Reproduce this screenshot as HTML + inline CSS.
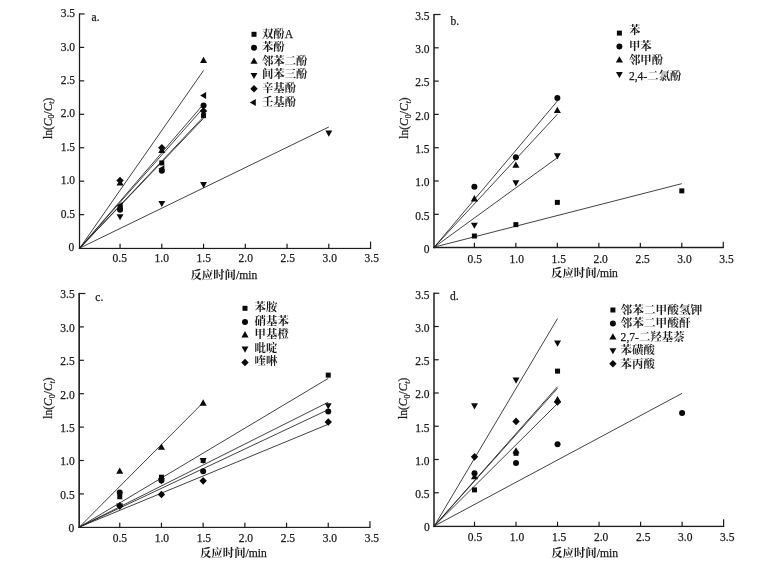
<!DOCTYPE html>
<html lang="zh"><head><meta charset="utf-8"><title>ln(C0/Ct) - 反应时间</title>
<style>
html,body{margin:0;padding:0;background:#fff;}
body{width:759px;height:565px;overflow:hidden;}
svg{display:block;will-change:transform;}
text{font-family:"Liberation Serif","Noto Serif CJK SC",serif;fill:#1c1c1c;}
.tk{font-size:11.5px;stroke:#1c1c1c;stroke-width:0.25px;}
.lg{font-size:11.4px;font-weight:700;}
.la{font-weight:400;font-size:11.6px;stroke:#1c1c1c;stroke-width:0.25px;}
.axr rect{fill:#1c1c1c;}
.ln{stroke:#202020;stroke-width:0.85;fill:none;}
.mk{fill:#0a0a0a;}
</style></head><body>
<svg width="759" height="565" viewBox="0 0 759 565">
<rect width="759" height="565" fill="#fff"/>
<g id="panel-a">
<line class="ln" x1="79.80" y1="248.05" x2="203.55" y2="70.48"/>
<line class="ln" x1="79.80" y1="248.05" x2="203.55" y2="104.10"/>
<line class="ln" x1="79.80" y1="248.05" x2="203.55" y2="107.61"/>
<line class="ln" x1="79.80" y1="248.05" x2="203.55" y2="116.84"/>
<line class="ln" x1="79.80" y1="248.05" x2="203.55" y2="118.35"/>
<line class="ln" x1="79.80" y1="248.05" x2="328.80" y2="127.00"/>
<g class="axr">
<rect x="78.88" y="13.35" width="1.25" height="235.70"/>
<rect x="78.88" y="247.85" width="292.28" height="1.20"/>
<rect x="119.45" y="243.75" width="1.2" height="4.70"/>
<rect x="79.50" y="214.05" width="4.70" height="1.2"/>
<text class="tk" text-anchor="middle" x="119.70" y="262.40">0.5</text>
<text class="tk" text-anchor="end" x="75.00" y="217.80">0.5</text>
<rect x="161.20" y="243.75" width="1.2" height="4.70"/>
<rect x="79.50" y="180.60" width="4.70" height="1.2"/>
<text class="tk" text-anchor="middle" x="161.70" y="262.40">1.0</text>
<text class="tk" text-anchor="end" x="75.00" y="184.35">1.0</text>
<rect x="202.95" y="243.75" width="1.2" height="4.70"/>
<rect x="79.50" y="147.15" width="4.70" height="1.2"/>
<text class="tk" text-anchor="middle" x="203.70" y="262.40">1.5</text>
<text class="tk" text-anchor="end" x="75.00" y="150.90">1.5</text>
<rect x="244.70" y="243.75" width="1.2" height="4.70"/>
<rect x="79.50" y="113.70" width="4.70" height="1.2"/>
<text class="tk" text-anchor="middle" x="245.70" y="262.40">2.0</text>
<text class="tk" text-anchor="end" x="75.00" y="117.45">2.0</text>
<rect x="286.45" y="243.75" width="1.2" height="4.70"/>
<rect x="79.50" y="80.25" width="4.70" height="1.2"/>
<text class="tk" text-anchor="middle" x="287.70" y="262.40">2.5</text>
<text class="tk" text-anchor="end" x="75.00" y="84.00">2.5</text>
<rect x="328.20" y="243.75" width="1.2" height="4.70"/>
<rect x="79.50" y="46.80" width="4.70" height="1.2"/>
<text class="tk" text-anchor="middle" x="329.70" y="262.40">3.0</text>
<text class="tk" text-anchor="end" x="75.00" y="50.55">3.0</text>
<rect x="369.95" y="241.55" width="1.2" height="6.90"/>
<rect x="79.50" y="13.35" width="5.10" height="1.2"/>
<text class="tk" text-anchor="middle" x="371.70" y="262.40">3.5</text>
<text class="tk" text-anchor="end" x="75.00" y="17.10">3.5</text>
</g>
<text class="tk" text-anchor="end" x="74.20" y="250.85">0</text>
<g class="mk">
<rect x="117.55" y="205.13" width="5.0" height="5.0"/>
<rect x="159.30" y="160.44" width="5.0" height="5.0"/>
<rect x="201.05" y="113.14" width="5.0" height="5.0"/>
<circle cx="120.05" cy="209.77" r="3.0"/>
<circle cx="161.80" cy="170.83" r="3.0"/>
<circle cx="203.55" cy="105.60" r="3.0"/>
<polygon points="120.05,179.17 123.60,185.47 116.50,185.47"/>
<polygon points="161.80,146.73 165.35,153.03 158.25,153.03"/>
<polygon points="203.55,56.68 207.10,62.98 200.00,62.98"/>
<polygon points="120.05,220.26 123.50,214.16 116.60,214.16"/>
<polygon points="161.80,207.08 165.25,200.98 158.35,200.98"/>
<polygon points="203.55,188.14 207.00,182.04 200.10,182.04"/>
<polygon points="328.80,136.63 332.25,130.53 325.35,130.53"/>
<polygon points="120.05,176.73 123.75,180.53 120.05,184.33 116.35,180.53"/>
<polygon points="161.80,143.95 165.50,147.75 161.80,151.55 158.10,147.75"/>
<polygon points="203.55,107.15 207.25,110.95 203.55,114.75 199.85,110.95"/>
<polygon points="116.65,205.48 122.65,201.98 122.65,208.98"/>
<polygon points="158.40,168.82 164.40,165.32 164.40,172.32"/>
<polygon points="200.15,95.57 206.15,92.07 206.15,99.07"/>
</g>
<text class="tk" x="91.60" y="21.20">a.</text>
<g class="mk">
<rect x="251.50" y="31.80" width="5.0" height="5.0"/>
<circle cx="254.00" cy="47.70" r="3.0"/>
<polygon points="254.00,57.50 257.55,63.80 250.45,63.80"/>
<polygon points="254.00,79.10 257.45,73.00 250.55,73.00"/>
<polygon points="254.00,85.00 257.70,88.80 254.00,92.60 250.30,88.80"/>
<polygon points="249.80,102.40 255.80,98.90 255.80,105.90"/>
</g>
<text class="lg" x="261.90" y="37.60">双酚<tspan class="la">A</tspan></text>
<text class="lg" x="261.90" y="51.20">苯酚</text>
<text class="lg" x="261.90" y="64.80">邻苯二酚</text>
<text class="lg" x="261.90" y="78.40">间苯三酚</text>
<text class="lg" x="261.90" y="92.00">辛基酚</text>
<text class="lg" x="261.90" y="105.60">壬基酚</text>
<text class="lg" text-anchor="middle" x="223.80" y="278.60">反应时间<tspan class="la">/min</tspan></text>
<text class="tk" text-anchor="middle" transform="translate(52.00,118.30) rotate(-90)">ln(<tspan font-style="italic">C</tspan><tspan font-size="8px" dy="2.2">0</tspan><tspan dy="-2.2">/</tspan><tspan font-style="italic">C</tspan><tspan font-size="8px" font-style="italic" dy="2.2">t</tspan><tspan dy="-2.2">)</tspan></text>
</g>
<g id="panel-b">
<line class="ln" x1="434.30" y1="247.10" x2="557.36" y2="101.05"/>
<line class="ln" x1="434.30" y1="247.10" x2="557.36" y2="114.33"/>
<line class="ln" x1="434.30" y1="247.10" x2="557.36" y2="157.69"/>
<line class="ln" x1="434.30" y1="247.10" x2="681.81" y2="183.66"/>
<g class="axr">
<rect x="433.25" y="13.90" width="1.50" height="234.32"/>
<rect x="433.25" y="246.78" width="290.64" height="1.45"/>
<rect x="473.78" y="242.80" width="1.2" height="4.70"/>
<rect x="434.00" y="213.70" width="4.70" height="1.2"/>
<text class="tk" text-anchor="middle" x="474.80" y="262.50">0.5</text>
<text class="tk" text-anchor="end" x="429.50" y="219.60">0.5</text>
<rect x="515.27" y="242.80" width="1.2" height="4.70"/>
<rect x="434.00" y="180.40" width="4.70" height="1.2"/>
<text class="tk" text-anchor="middle" x="516.75" y="262.50">1.0</text>
<text class="tk" text-anchor="end" x="429.50" y="186.30">1.0</text>
<rect x="556.75" y="242.80" width="1.2" height="4.70"/>
<rect x="434.00" y="147.10" width="4.70" height="1.2"/>
<text class="tk" text-anchor="middle" x="558.70" y="262.50">1.5</text>
<text class="tk" text-anchor="end" x="429.50" y="153.00">1.5</text>
<rect x="598.24" y="242.80" width="1.2" height="4.70"/>
<rect x="434.00" y="113.80" width="4.70" height="1.2"/>
<text class="tk" text-anchor="middle" x="600.65" y="262.50">2.0</text>
<text class="tk" text-anchor="end" x="429.50" y="119.70">2.0</text>
<rect x="639.73" y="242.80" width="1.2" height="4.70"/>
<rect x="434.00" y="80.50" width="4.70" height="1.2"/>
<text class="tk" text-anchor="middle" x="642.60" y="262.50">2.5</text>
<text class="tk" text-anchor="end" x="429.50" y="86.40">2.5</text>
<rect x="681.21" y="242.80" width="1.2" height="4.70"/>
<rect x="434.00" y="47.20" width="4.70" height="1.2"/>
<text class="tk" text-anchor="middle" x="684.55" y="262.50">3.0</text>
<text class="tk" text-anchor="end" x="429.50" y="53.10">3.0</text>
<rect x="722.69" y="241.80" width="1.2" height="5.70"/>
<rect x="434.00" y="13.90" width="6.50" height="1.2"/>
<text class="tk" text-anchor="middle" x="726.50" y="262.50">3.5</text>
<text class="tk" text-anchor="end" x="429.50" y="19.80">3.5</text>
</g>
<text class="tk" text-anchor="end" x="429.50" y="252.50">0</text>
<g class="mk">
<rect x="471.88" y="233.51" width="5.0" height="5.0"/>
<rect x="513.37" y="222.12" width="5.0" height="5.0"/>
<rect x="554.86" y="199.88" width="5.0" height="5.0"/>
<rect x="679.31" y="188.36" width="5.0" height="5.0"/>
<circle cx="474.38" cy="186.73" r="3.0"/>
<circle cx="515.87" cy="157.29" r="3.0"/>
<circle cx="557.36" cy="98.02" r="3.0"/>
<polygon points="474.38,195.08 477.94,201.38 470.83,201.38"/>
<polygon points="515.87,161.38 519.42,167.68 512.32,167.68"/>
<polygon points="557.36,106.70 560.90,113.00 553.81,113.00"/>
<polygon points="474.38,228.82 477.83,222.72 470.94,222.72"/>
<polygon points="515.87,186.40 519.32,180.30 512.42,180.30"/>
<polygon points="557.36,159.43 560.81,153.33 553.90,153.33"/>
</g>
<text class="tk" x="450.60" y="24.50">b.</text>
<g class="mk">
<rect x="616.90" y="30.60" width="5.0" height="5.0"/>
<circle cx="619.40" cy="46.40" r="3.0"/>
<polygon points="619.40,56.30 622.95,62.60 615.85,62.60"/>
<polygon points="619.40,78.10 622.85,72.00 615.95,72.00"/>
</g>
<text class="lg" x="628.90" y="33.90">苯</text>
<text class="lg" x="628.90" y="49.50">甲苯</text>
<text class="lg" x="628.90" y="64.30">邻甲酚</text>
<text class="lg" x="628.90" y="79.90"><tspan class="la">2,4-</tspan>二氯酚</text>
<text class="lg" text-anchor="middle" x="584.50" y="277.30">反应时间<tspan class="la">/min</tspan></text>
<text class="tk" text-anchor="middle" transform="translate(408.40,118.00) rotate(-90)">ln(<tspan font-style="italic">C</tspan><tspan font-size="8px" dy="2.2">0</tspan><tspan dy="-2.2">/</tspan><tspan font-style="italic">C</tspan><tspan font-size="8px" font-style="italic" dy="2.2">t</tspan><tspan dy="-2.2">)</tspan></text>
</g>
<g id="panel-c">
<line class="ln" x1="79.45" y1="527.00" x2="203.15" y2="402.55"/>
<line class="ln" x1="79.45" y1="527.00" x2="328.25" y2="378.40"/>
<line class="ln" x1="79.45" y1="527.00" x2="328.25" y2="402.25"/>
<line class="ln" x1="79.45" y1="527.00" x2="328.25" y2="409.67"/>
<line class="ln" x1="79.45" y1="527.00" x2="328.25" y2="424.29"/>
<g class="axr">
<rect x="78.35" y="292.90" width="1.60" height="235.08"/>
<rect x="78.35" y="526.82" width="292.20" height="1.15"/>
<rect x="119.15" y="522.70" width="1.2" height="4.70"/>
<rect x="79.15" y="493.30" width="4.70" height="1.2"/>
<text class="tk" text-anchor="middle" x="119.90" y="541.60">0.5</text>
<text class="tk" text-anchor="end" x="74.65" y="498.70">0.5</text>
<rect x="160.85" y="522.70" width="1.2" height="4.70"/>
<rect x="79.15" y="459.90" width="4.70" height="1.2"/>
<text class="tk" text-anchor="middle" x="161.90" y="541.60">1.0</text>
<text class="tk" text-anchor="end" x="74.65" y="465.30">1.0</text>
<rect x="202.55" y="522.70" width="1.2" height="4.70"/>
<rect x="79.15" y="426.50" width="4.70" height="1.2"/>
<text class="tk" text-anchor="middle" x="203.90" y="541.60">1.5</text>
<text class="tk" text-anchor="end" x="74.65" y="431.90">1.5</text>
<rect x="244.25" y="522.70" width="1.2" height="4.70"/>
<rect x="79.15" y="393.10" width="4.70" height="1.2"/>
<text class="tk" text-anchor="middle" x="245.90" y="541.60">2.0</text>
<text class="tk" text-anchor="end" x="74.65" y="398.50">2.0</text>
<rect x="285.95" y="522.70" width="1.2" height="4.70"/>
<rect x="79.15" y="359.70" width="4.70" height="1.2"/>
<text class="tk" text-anchor="middle" x="287.90" y="541.60">2.5</text>
<text class="tk" text-anchor="end" x="74.65" y="365.10">2.5</text>
<rect x="327.65" y="522.70" width="1.2" height="4.70"/>
<rect x="79.15" y="326.30" width="4.70" height="1.2"/>
<text class="tk" text-anchor="middle" x="329.90" y="541.60">3.0</text>
<text class="tk" text-anchor="end" x="74.65" y="331.70">3.0</text>
<rect x="369.35" y="521.10" width="1.2" height="6.30"/>
<rect x="79.15" y="292.90" width="6.20" height="1.2"/>
<text class="tk" text-anchor="middle" x="371.90" y="541.60">3.5</text>
<text class="tk" text-anchor="end" x="74.65" y="298.30">3.5</text>
</g>
<text class="tk" text-anchor="end" x="74.35" y="531.70">0</text>
<g class="mk">
<rect x="117.25" y="494.27" width="5.0" height="5.0"/>
<rect x="158.95" y="474.70" width="5.0" height="5.0"/>
<rect x="200.65" y="458.00" width="5.0" height="5.0"/>
<rect x="325.75" y="372.63" width="5.0" height="5.0"/>
<circle cx="119.75" cy="492.56" r="3.0"/>
<circle cx="161.45" cy="480.54" r="3.0"/>
<circle cx="203.15" cy="471.19" r="3.0"/>
<circle cx="328.25" cy="411.40" r="3.0"/>
<polygon points="119.75,467.49 123.30,473.79 116.20,473.79"/>
<polygon points="161.45,443.44 165.00,449.74 157.90,449.74"/>
<polygon points="203.15,399.35 206.70,405.65 199.60,405.65"/>
<polygon points="119.75,509.52 123.20,503.42 116.30,503.42"/>
<polygon points="161.45,484.14 164.90,478.04 158.00,478.04"/>
<polygon points="203.15,464.10 206.60,458.00 199.70,458.00"/>
<polygon points="328.25,409.32 331.70,403.22 324.80,403.22"/>
<polygon points="119.75,502.12 123.45,505.92 119.75,509.72 116.05,505.92"/>
<polygon points="161.45,490.77 165.15,494.57 161.45,498.37 157.75,494.57"/>
<polygon points="203.15,477.07 206.85,480.87 203.15,484.67 199.45,480.87"/>
<polygon points="328.25,418.22 331.95,422.02 328.25,425.82 324.55,422.02"/>
</g>
<text class="tk" x="95.30" y="300.60">c.</text>
<g class="mk">
<rect x="242.50" y="305.80" width="5.0" height="5.0"/>
<circle cx="245.00" cy="321.90" r="3.0"/>
<polygon points="245.00,331.10 248.55,337.40 241.45,337.40"/>
<polygon points="245.00,352.70 248.45,346.60 241.55,346.60"/>
<polygon points="245.00,358.70 248.70,362.50 245.00,366.30 241.30,362.50"/>
</g>
<text class="lg" x="254.60" y="311.30">苯胺</text>
<text class="lg" x="254.60" y="324.80">硝基苯</text>
<text class="lg" x="254.60" y="338.40">甲基橙</text>
<text class="lg" x="254.60" y="351.90">吡啶</text>
<text class="lg" x="254.60" y="365.00">喹啉</text>
<text class="lg" text-anchor="middle" x="233.40" y="557.30">反应时间<tspan class="la">/min</tspan></text>
<text class="tk" text-anchor="middle" transform="translate(52.40,398.00) rotate(-90)">ln(<tspan font-style="italic">C</tspan><tspan font-size="8px" dy="2.2">0</tspan><tspan dy="-2.2">/</tspan><tspan font-style="italic">C</tspan><tspan font-size="8px" font-style="italic" dy="2.2">t</tspan><tspan dy="-2.2">)</tspan></text>
</g>
<g id="panel-d">
<line class="ln" x1="434.30" y1="526.00" x2="557.54" y2="318.52"/>
<line class="ln" x1="434.30" y1="526.00" x2="557.54" y2="386.65"/>
<line class="ln" x1="434.30" y1="526.00" x2="557.54" y2="388.35"/>
<line class="ln" x1="434.30" y1="526.00" x2="557.54" y2="403.51"/>
<line class="ln" x1="434.30" y1="526.00" x2="682.09" y2="393.33"/>
<g class="axr">
<rect x="433.25" y="292.65" width="1.50" height="234.40"/>
<rect x="433.25" y="525.75" width="290.96" height="1.30"/>
<rect x="473.91" y="521.70" width="1.2" height="4.70"/>
<rect x="434.00" y="492.15" width="4.70" height="1.2"/>
<text class="tk" text-anchor="middle" x="475.00" y="541.40">0.5</text>
<text class="tk" text-anchor="end" x="429.50" y="498.15">0.5</text>
<rect x="515.43" y="521.70" width="1.2" height="4.70"/>
<rect x="434.00" y="458.90" width="4.70" height="1.2"/>
<text class="tk" text-anchor="middle" x="517.05" y="541.40">1.0</text>
<text class="tk" text-anchor="end" x="429.50" y="464.90">1.0</text>
<rect x="556.94" y="521.70" width="1.2" height="4.70"/>
<rect x="434.00" y="425.65" width="4.70" height="1.2"/>
<text class="tk" text-anchor="middle" x="559.10" y="541.40">1.5</text>
<text class="tk" text-anchor="end" x="429.50" y="431.65">1.5</text>
<rect x="598.46" y="521.70" width="1.2" height="4.70"/>
<rect x="434.00" y="392.40" width="4.70" height="1.2"/>
<text class="tk" text-anchor="middle" x="601.15" y="541.40">2.0</text>
<text class="tk" text-anchor="end" x="429.50" y="398.40">2.0</text>
<rect x="639.98" y="521.70" width="1.2" height="4.70"/>
<rect x="434.00" y="359.15" width="4.70" height="1.2"/>
<text class="tk" text-anchor="middle" x="643.20" y="541.40">2.5</text>
<text class="tk" text-anchor="end" x="429.50" y="365.15">2.5</text>
<rect x="681.49" y="521.70" width="1.2" height="4.70"/>
<rect x="434.00" y="325.90" width="4.70" height="1.2"/>
<text class="tk" text-anchor="middle" x="685.25" y="541.40">3.0</text>
<text class="tk" text-anchor="end" x="429.50" y="331.90">3.0</text>
<rect x="723.00" y="519.30" width="1.2" height="7.10"/>
<rect x="434.00" y="292.65" width="5.30" height="1.2"/>
<text class="tk" text-anchor="middle" x="727.30" y="541.40">3.5</text>
<text class="tk" text-anchor="end" x="429.50" y="298.65">3.5</text>
</g>
<text class="tk" text-anchor="end" x="429.70" y="531.00">0</text>
<g class="mk">
<rect x="472.01" y="487.39" width="5.0" height="5.0"/>
<rect x="513.53" y="450.82" width="5.0" height="5.0"/>
<rect x="555.04" y="368.62" width="5.0" height="5.0"/>
<circle cx="474.51" cy="473.20" r="3.0"/>
<circle cx="516.03" cy="463.02" r="3.0"/>
<circle cx="557.54" cy="444.27" r="3.0"/>
<circle cx="682.09" cy="412.95" r="3.0"/>
<polygon points="474.51,473.02 478.06,479.32 470.96,479.32"/>
<polygon points="516.03,447.29 519.58,453.59 512.48,453.59"/>
<polygon points="557.54,395.95 561.09,402.25 554.00,402.25"/>
<polygon points="474.51,409.43 477.96,403.33 471.06,403.33"/>
<polygon points="516.03,383.70 519.48,377.60 512.58,377.60"/>
<polygon points="557.54,346.73 561.00,340.62 554.09,340.62"/>
<polygon points="474.51,453.04 478.21,456.84 474.51,460.64 470.81,456.84"/>
<polygon points="516.03,417.60 519.73,421.40 516.03,425.20 512.33,421.40"/>
<polygon points="557.54,398.11 561.25,401.91 557.54,405.71 553.84,401.91"/>
</g>
<text class="tk" x="449.90" y="300.30">d.</text>
<g class="mk">
<rect x="610.40" y="307.50" width="5.0" height="5.0"/>
<circle cx="612.90" cy="323.50" r="3.0"/>
<polygon points="612.90,333.20 616.45,339.50 609.35,339.50"/>
<polygon points="612.90,354.30 616.35,348.20 609.45,348.20"/>
<polygon points="612.90,360.00 616.60,363.80 612.90,367.60 609.20,363.80"/>
</g>
<text class="lg" style="font-size:11.68px" x="620.60" y="313.50">邻苯二甲酸氢钾</text>
<text class="lg" style="font-size:11.68px" x="620.60" y="327.10">邻苯二甲酸酐</text>
<text class="lg" x="620.60" y="340.90"><tspan class="la">2,7-</tspan>二羟基萘</text>
<text class="lg" x="620.60" y="354.30">苯磺酸</text>
<text class="lg" x="620.60" y="367.80">苯丙酸</text>
<text class="lg" text-anchor="middle" x="584.60" y="556.50">反应时间<tspan class="la">/min</tspan></text>
<text class="tk" text-anchor="middle" transform="translate(407.40,398.30) rotate(-90)">ln(<tspan font-style="italic">C</tspan><tspan font-size="8px" dy="2.2">0</tspan><tspan dy="-2.2">/</tspan><tspan font-style="italic">C</tspan><tspan font-size="8px" font-style="italic" dy="2.2">t</tspan><tspan dy="-2.2">)</tspan></text>
</g>
</svg></body></html>
